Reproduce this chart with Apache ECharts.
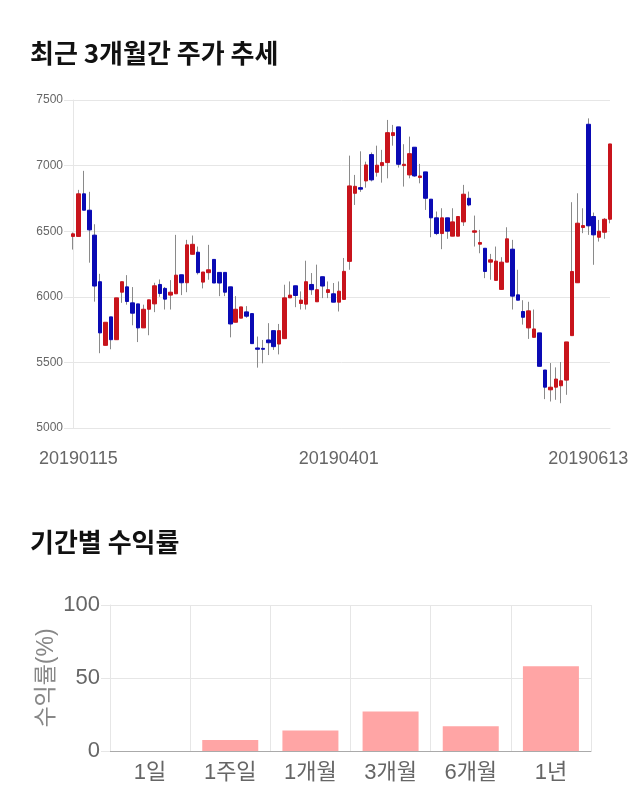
<!DOCTYPE html>
<html>
<head>
<meta charset="utf-8">
<script src="https://cdn.jsdelivr.net/npm/echarts@6/dist/echarts.min.js"></script>
<style>
  html, body { margin: 0; padding: 0; background: #fff; }
  #main { width: 640px; height: 810px; }
</style>
</head>
<body>
<div id="main"></div>
<script>
// candles
var opens = [6460,6460,6785,6660,6470,6115,5630,5847,5673,6035,6076,5954,5946,5763,5905,5946,6094,6064,6013,6023,6168,6107,6324,6340,6112,6184,6285,6186,6186,6076,5806,5837,5885,5872,5610,5607,5671,5742,5640,5681,5992,6084,5949,5944,6094,5962,6153,6033,6023,5959,5980,6270,6789,6832,6883,7084,6949,7000,7023,7229,7295,7000,6929,7140,6909,6952,6744,6602,6482,6602,6462,6462,6571,6751,6492,6401,6370,6264,6125,6056,6264,6363,6015,5888,5763,5691,5725,5442,5291,5311,5322,5365,5704,6107,6528,7315,6612,6454,6492,6591];
var closes = [6480,6785,6660,6510,6082,5725,5806,5673,5992,6115,5964,5875,5763,5905,5977,6084,6025,5982,6035,6165,6107,6396,6400,6184,6189,6206,6105,6105,6035,5793,5905,5923,5852,5643,5600,5600,5650,5620,5742,5992,6013,6010,5975,6115,6054,6054,6082,6054,5959,6043,6194,6845,6842,6820,7005,6891,7003,7023,7251,7251,7010,7010,7091,6921,6921,6751,6602,6482,6602,6500,6571,6612,6782,6700,6503,6414,6193,6282,6272,6264,6442,6005,5974,5844,5893,5755,5470,5311,5311,5373,5360,5656,6193,6561,6543,6541,6472,6500,6591,7165];
var lows = [6360,6460,6660,6260,5963,5570,5630,5600,5673,5954,5940,5783,5655,5763,5707,5883,6000,5903,5903,6023,6013,6035,6324,6170,6064,6130,6105,6005,6005,5691,5806,5837,5840,5643,5460,5493,5556,5595,5561,5681,5992,5921,5903,5903,6015,5962,5990,5990,5959,5888,5980,6206,6700,6800,6832,6880,6916,6870,6903,7152,6985,6840,6903,6915,6865,6662,6454,6470,6363,6442,6462,6462,6540,6690,6383,6332,6142,6130,6125,6056,6264,5903,5974,5788,5679,5691,5470,5220,5202,5215,5189,5253,5704,6107,6485,6472,6244,6421,6442,6560];
var highs = [6490,6815,6960,6800,6553,6175,5806,5847,5992,6115,6165,6074,5946,5940,5977,6107,6132,6075,6127,6472,6168,6434,6467,6383,6189,6396,6285,6186,6186,6076,6005,5923,5929,5872,5697,5671,5799,5742,5793,6092,6117,6084,6041,6275,6181,6245,6153,6117,6105,6117,6296,7076,6929,7109,7030,7100,7152,7120,7348,7310,7295,7163,7221,7140,7013,6952,6744,6650,6675,6602,6675,6612,6853,6802,6619,6510,6370,6327,6383,6302,6530,6434,6206,5974,5962,5903,5725,5442,5495,5462,5503,5656,6721,6789,6675,7360,6642,6586,6600,7165];

var dateIndexes = [1, 49, 95];
var dateLabels = ['20190115', '20190401', '20190613'];

var priceTicks = { min: 5000, max: 7500, step: 500 };

// 기간별 수익률
var periods = ['1일', '1주일', '1개월', '3개월', '6개월', '1년'];
var returns = [0, 7.5, 14, 27, 17, 58];

var red = '#c8141c';
var blue = '#0a0ab4';
var wickColor = '#8a8a8a';
var gridColor = '#e6e6e6';
var fontFamily = '"Liberation Sans", "Noto Sans CJK KR", sans-serif';

var days = opens.map(function (v, i) { return i; });

var wickData = opens.map(function (v, i) {
  return [closes[i], closes[i], lows[i], highs[i]];
});
var bodyData = opens.map(function (v, i) {
  return [v, closes[i], Math.min(v, closes[i]), Math.max(v, closes[i])];
});

var chart = echarts.init(document.getElementById('main'), null, { renderer: 'canvas' });

chart.setOption({
  animation: false,
  backgroundColor: '#fff',
  title: [
    {
      text: '최근 3개월간 주가 추세', left: 25, top: 35,
      textStyle: { fontFamily: '"Noto Sans CJK KR"', fontSize: 26, fontWeight: 'bold', color: '#111' }
    },
    {
      text: '기간별 수익률', left: 25, top: 524,
      textStyle: { fontFamily: '"Noto Sans CJK KR"', fontSize: 26, fontWeight: 'bold', color: '#111' }
    }
  ],
  grid: [
    { left: 73, right: 30, top: 100, height: 328 },
    { left: 110, right: 49, top: 605, height: 146 }
  ],
  xAxis: [
    {
      gridIndex: 0, type: 'category', data: days, boundaryGap: false,
      axisLine: { lineStyle: { color: gridColor } },
      axisTick: { show: false },
      splitLine: { show: false },
      axisLabel: {
        interval: function (i) { return dateIndexes.indexOf(i) >= 0; },
        formatter: function (v, i) { return dateLabels[dateIndexes.indexOf(i)]; },
        hideOverlap: false,
        fontFamily: fontFamily, fontSize: 18, color: '#666', margin: 22
      }
    },
    {
      gridIndex: 1, type: 'category', data: periods,
      axisLine: { lineStyle: { color: '#aaa' } },
      axisTick: { length: 10, lineStyle: { color: gridColor } },
      splitLine: { show: true, lineStyle: { color: gridColor } },
      axisLabel: { fontFamily: fontFamily, fontSize: 22, color: '#666', margin: 11 }
    }
  ],
  yAxis: [
    {
      gridIndex: 0, type: 'value',
      min: priceTicks.min, max: priceTicks.max, interval: priceTicks.step,
      axisLine: { show: true, lineStyle: { color: gridColor } },
      axisTick: { show: true, length: 9, lineStyle: { color: gridColor } },
      splitLine: { lineStyle: { color: gridColor } },
      axisLabel: {
        formatter: function (v) { return String(v); },
        fontFamily: fontFamily, fontSize: 12, color: '#666', margin: 10
      }
    },
    {
      gridIndex: 1, type: 'value', min: 0, max: 100, interval: 50,
      name: '수익률(%)', nameLocation: 'middle', nameGap: 52, nameRotate: 90, nameMoveOverlap: false,
      nameTextStyle: { fontFamily: fontFamily, fontSize: 23, color: '#888' },
      axisLine: { show: true, lineStyle: { color: gridColor } },
      axisTick: { show: true, length: 9, lineStyle: { color: gridColor } },
      splitLine: { lineStyle: { color: gridColor } },
      axisLabel: { fontFamily: fontFamily, fontSize: 22, color: '#666', margin: 10 }
    }
  ],
  series: [
    {
      name: 'wick', type: 'candlestick', xAxisIndex: 0, yAxisIndex: 0,
      barWidth: 1, data: wickData,
      itemStyle: { color: wickColor, color0: wickColor, borderColor: wickColor, borderColor0: wickColor, borderWidth: 1 }
    },
    {
      name: 'body', type: 'candlestick', xAxisIndex: 0, yAxisIndex: 0,
      barWidth: 4, data: bodyData,
      itemStyle: { color: red, color0: blue, borderColor: red, borderColor0: blue, borderWidth: 1 }
    },
    {
      name: 'return', type: 'bar', xAxisIndex: 1, yAxisIndex: 1,
      barWidth: 56, data: returns,
      itemStyle: { color: '#ffa5a5', borderWidth: 0 }
    }
  ]
});
</script>
</body>
</html>
